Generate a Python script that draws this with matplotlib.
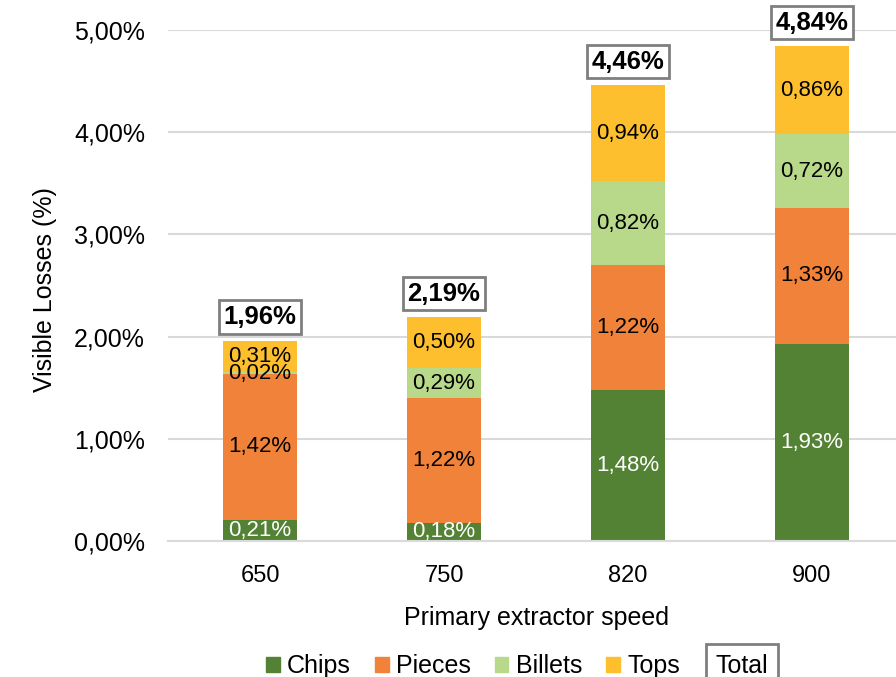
import numpy as np
import matplotlib
matplotlib.use("Agg")
import matplotlib.pyplot as plt
from matplotlib.patches import Patch
from matplotlib.ticker import FuncFormatter

plt.rcParams['font.family'] = ['Liberation Sans', 'DejaVu Sans']

speeds = ["650", "750", "820", "900"]
chips = [0.21, 0.18, 1.48, 1.93]
pieces = [1.42, 1.22, 1.22, 1.33]
billets = [0.02, 0.29, 0.82, 0.72]
tops = [0.31, 0.50, 0.94, 0.86]
totals = [1.96, 2.19, 4.46, 4.84]

series = [
    ("Chips", chips, "#548235", "white"),
    ("Pieces", pieces, "#F0823A", "black"),
    ("Billets", billets, "#B8D88A", "black"),
    ("Tops", tops, "#FDBF2D", "black"),
]


def pct(v):
    return f"{v:.2f}%".replace(".", ",")


fig = plt.figure(figsize=(8.96, 6.77), dpi=100)
ax = fig.add_axes([168 / 896, 136 / 677, 736 / 896, 511 / 677])

x = np.arange(len(speeds))
bottom = np.zeros(len(speeds))
for name, vals, color, txtcolor in series:
    vals = np.array(vals)
    ax.bar(x, vals, 0.4, bottom=bottom, color=color, zorder=2)
    for xi, b, v in zip(x, bottom, vals):
        ax.text(xi, b + v / 2, pct(v), ha="center", va="center",
                fontsize=16, color=txtcolor, zorder=3)
    bottom += vals

for xi, t in zip(x, totals):
    ax.annotate(pct(t), (xi, t), xytext=(0, 17), textcoords="offset points",
                ha="center", va="center", fontsize=18.5, fontweight="bold",
                bbox=dict(boxstyle="square,pad=0.18", fc="white",
                          ec="#7F7F7F", lw=2))

ax.set_xlim(-0.5, 3.5)
ax.set_ylim(0, 5)
ax.set_xticks(x)
ax.set_xticklabels(speeds)
ax.set_yticks(np.arange(0, 5.01, 1))
ax.yaxis.set_major_formatter(FuncFormatter(lambda v, _: pct(v)))
ax.tick_params(axis="x", length=0, labelsize=17, pad=17)
ax.tick_params(axis="y", length=0, labelsize=18, pad=16.5)
ax.grid(axis="y", color="#D9D9D9", lw=1.5, zorder=0)
for s in ["top", "right", "left"]:
    ax.spines[s].set_visible(False)
ax.spines["bottom"].set_color("#D9D9D9")
ax.spines["bottom"].set_linewidth(1.5)

ax.set_xlabel("Primary extractor speed", fontsize=18, labelpad=14)
fig.text(45 / 896, 1 - 290 / 677, "Visible Losses (%)", rotation=90,
         ha="center", va="center", fontsize=18)

handles = [Patch(color=c) for _, _, c, _ in series]
fig.legend(handles, [n for n, _, _, _ in series], loc="center",
           bbox_to_anchor=(473 / 896, 11 / 677), ncol=4, frameon=False,
           fontsize=18, handlelength=0.55, handleheight=0.55,
           handletextpad=0.3, columnspacing=0.95)
fig.text(742 / 896, 11 / 677, "Total", ha="center", va="center", fontsize=18,
         bbox=dict(boxstyle="square,pad=0.4", fc="white", ec="#7F7F7F", lw=2))

fig.savefig("out.png", dpi=100)
